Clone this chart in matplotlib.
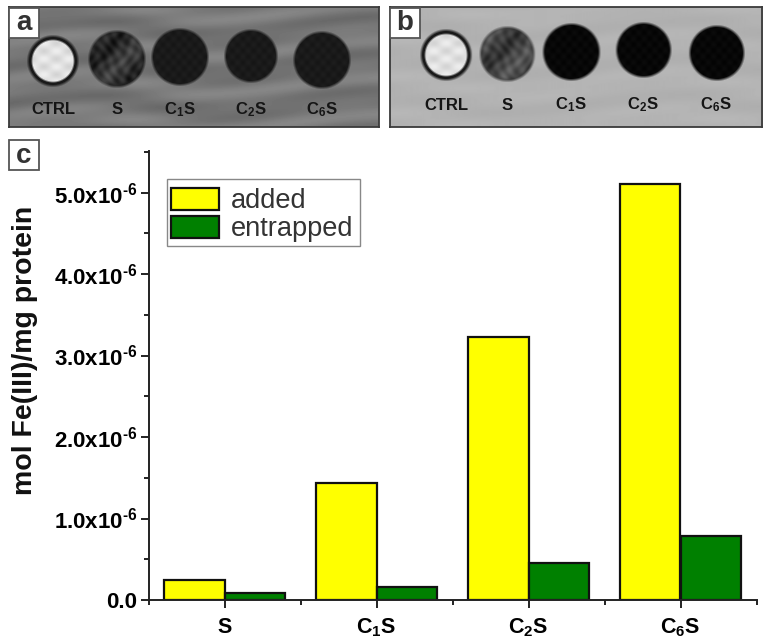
import numpy as np
import matplotlib
matplotlib.use('Agg')
from matplotlib import pyplot as plt
from matplotlib.patches import Rectangle

plt.rcParams['font.family'] = ['Liberation Sans', 'DejaVu Sans']
plt.rcParams['mathtext.fontset'] = 'custom'
plt.rcParams['mathtext.rm'] = 'Liberation Sans:bold'
plt.rcParams['mathtext.default'] = 'rm'

samples = ['S', 'C$_{1}$S', 'C$_{2}$S', 'C$_{6}$S']
added = [0.25e-6, 1.44e-6, 3.23e-6, 5.10e-6]
entrapped = [0.08e-6, 0.16e-6, 0.46e-6, 0.79e-6]
y_ticks = [0, 1e-6, 2e-6, 3e-6, 4e-6, 5e-6]
y_tick_labels = ['0.0', '1.0x10$^{\u20106}$', '2.0x10$^{\u20106}$', '3.0x10$^{\u20106}$',
                 '4.0x10$^{\u20106}$', '5.0x10$^{\u20106}$']
well_labels = ['CTRL', 'S', 'C$_{1}$S', 'C$_{2}$S', 'C$_{6}$S']

W, H = 770, 642
fig = plt.figure(figsize=(W / 100, H / 100), dpi=100)


def px_axes(x0, y0, x1, y1):
    return fig.add_axes([x0 / W, 1 - y1 / H, (x1 - x0) / W, (y1 - y0) / H])


def draw_plate(box, wells, label_y, base, streak, dark):
    x0, y0, x1, y1 = box
    ax = px_axes(x0, y0, x1, y1)
    xx, yy = np.meshgrid(np.arange(x0, x1) + 0.5, np.arange(y0, y1) + 0.5)
    img = (base + streak * np.sin(yy / 6.0 + np.sin(xx / 47.0) * 1.6)
           + streak * 0.4 * np.sin(yy / 2.9 + xx / 31.0))
    for i, (cx, cy, r) in enumerate(wells):
        d = np.hypot(xx - cx, yy - cy)
        inside = np.clip((r + 1.5 - d) / 3.0, 0, 1)
        if i == 0:
            # control well: bright fill and a dark rim
            fill = 0.88 + 0.05 * np.sin(yy / 2.5) * np.sin(xx / 4.0)
            rim = np.clip((d - (r - 5)) / 2.0, 0, 1)
            fill = fill * (1 - rim) + 0.1 * rim
        elif i == 1:
            # unlabelled sample is mottled
            mottle = np.sin(xx / 2.1 + np.sin(yy / 5.0)) * np.sin(yy / 2.9 + np.sin(xx / 7.0))
            fill = dark[0] + 0.07 * (mottle + np.sin((xx + yy) / 9.0) + 1) \
                * np.clip((r + 4 - d) / 8.0, 0, 1)
        else:
            fill = dark[1] + 0.015 * np.sin(xx / 1.7) * np.sin(yy / 1.9)
        img = img * (1 - inside) + fill * inside
    ax.imshow(img, cmap='gray', vmin=0, vmax=1, aspect='auto',
              extent=(x0, x1, y1, y0), interpolation='bilinear')
    for (cx, cy, r), lab in zip(wells, well_labels):
        ax.text(cx, label_y, lab, ha='center', va='center', fontsize=12,
                fontweight='bold', color='#151515')
    ax.set_xlim(x0, x1)
    ax.set_ylim(y1, y0)
    ax.set_xticks([])
    ax.set_yticks([])
    for s in ax.spines.values():
        s.set_color('#3a3a3a')
        s.set_linewidth(1.3)
    return ax


def panel_letter(x0, y0, letter):
    fig.add_artist(Rectangle((x0 / W, 1 - (y0 + 30) / H), 30 / W, 30 / H,
                             transform=fig.transFigure, facecolor='white',
                             edgecolor='#555555', linewidth=1.3, zorder=5))
    fig.text((x0 + 15) / W, 1 - (y0 + 15.5) / H, letter, ha='center', va='center',
             fontsize=20, fontweight='bold', color='#333333', zorder=6)


draw_plate((9, 7, 379, 127),
           [(53, 61, 25), (117, 59, 28), (180, 57, 28), (251, 56, 26), (322, 60, 28)],
           110, 0.47, 0.04, (0.12, 0.10))
draw_plate((390, 7, 762, 127),
           [(446, 55, 25), (507, 54, 27), (571, 52, 28), (643, 50, 27), (716, 53, 27)],
           105, 0.70, 0.012, (0.20, 0.03))

# bar panel
ax = px_axes(148.5, 151, 756.5, 600)
x = np.arange(4)
w = 0.4
ax.bar(x - w / 2, added, w, color='#ffff00', edgecolor='#111111', linewidth=1.6, label='added')
ax.bar(x + w / 2, entrapped, w, color='#008000', edgecolor='#111111', linewidth=1.6, label='entrapped')
ax.set_xlim(-0.5, 3.5)
ax.set_ylim(0, 5.51e-6)
ax.spines['top'].set_visible(False)
ax.spines['right'].set_visible(False)
for s in ['left', 'bottom']:
    ax.spines[s].set_linewidth(1.4)
    ax.spines[s].set_color('#222222')
ax.set_xticks(x)
ax.set_xticklabels(samples, fontsize=15.5, fontweight='bold')
ax.set_xticks(np.arange(-0.5, 3.6, 1), minor=True)
ax.set_yticks(y_ticks)
ax.set_yticklabels(y_tick_labels, fontsize=16, fontweight='bold')
ax.set_yticks(np.arange(0.5e-6, 5.6e-6, 1e-6), minor=True)
ax.tick_params(axis='both', which='major', length=6, width=1.4, color='#222222')
ax.tick_params(axis='both', which='minor', length=3.5, width=1.4, color='#222222')
ax.tick_params(axis='x', which='major', pad=6)
ax.tick_params(axis='y', which='major', pad=2)
fig.text(25 / W, 1 - 350 / H, 'mol Fe(III)/mg protein', rotation=90, ha='center',
         va='center', fontsize=20.5, fontweight='bold', color='#111111')

# legend frame is drawn apart so the swatches can sit close to its left edge
ax.add_patch(Rectangle((167 / 608 - 148.5 / 608, (600 - 246) / 449), 193 / 608, 67 / 449,
                       transform=ax.transAxes, facecolor='white', edgecolor='#888888',
                       linewidth=1.0, zorder=4))
leg = ax.legend(loc='upper left', bbox_to_anchor=((171 - 148.5) / 608, (600 - 188) / 449),
                fontsize=19.6, frameon=False, labelcolor='#333333', handlelength=1.76,
                handleheight=0.85, handletextpad=0.45, labelspacing=0.06, borderpad=0,
                borderaxespad=0)
leg.set_zorder(5)

panel_letter(9, 8, 'a')
panel_letter(390, 8, 'b')
panel_letter(9, 140, 'c')

fig.savefig('out.png', dpi=100)
